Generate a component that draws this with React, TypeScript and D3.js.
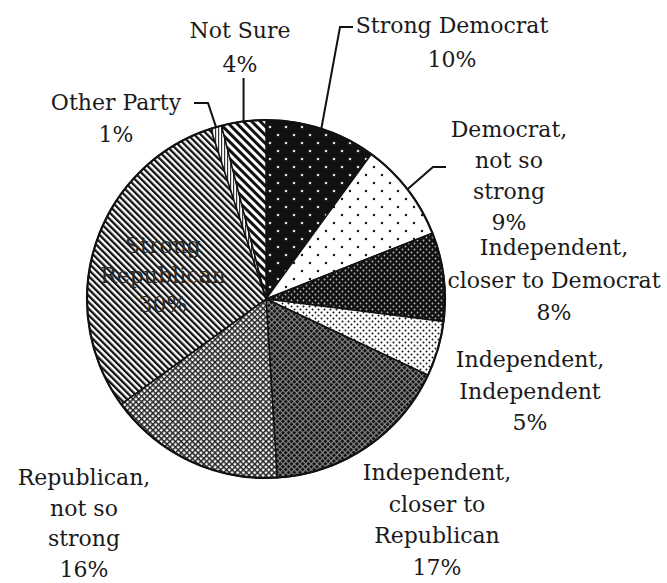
import React from "react";
import * as d3 from "d3";

const categories = [
  "Strong Democrat",
  "Democrat, not so strong",
  "Independent, closer to Democrat",
  "Independent, Independent",
  "Independent, closer to Republican",
  "Republican, not so strong",
  "Strong Republican",
  "Other Party",
  "Not Sure",
];
const values = [10, 9, 8, 5, 17, 16, 30, 1, 4];
const labelLines = [
  ["Strong Democrat"],
  ["Democrat,", "not so", "strong"],
  ["Independent,", "closer to Democrat"],
  ["Independent,", "Independent"],
  ["Independent,", "closer to", "Republican"],
  ["Republican,", "not so", "strong"],
  ["Strong", "Republican"],
  ["Other Party"],
  ["Not Sure"],
];
const patternIds = ["pSD", "pDN", "pICD", "pII", "pICR", "pRN", "pSR", "pOP", "pNS"];

// layout (not data): label anchor = centre x, first baseline y, line height
const labelLayout = [
  { x: 452, y: 33, lh: 34 },
  { x: 509, y: 137, lh: 31 },
  { x: 554, y: 255, lh: 32.5 },
  { x: 530, y: 367, lh: 31.5 },
  { x: 437, y: 480, lh: 31.7 },
  { x: 84, y: 485, lh: 30.7 },
  { x: 163, y: 253, lh: 29.5 },
  { x: 116, y: 110, lh: 32 },
  { x: 240, y: 38, lh: 34 },
];
// leader elbows after the arc point (null = no leader)
const leaderElbows: (number[][] | null)[] = [
  [[340, 27], [353, 27]],
  [[433, 167], [446, 167]],
  null,
  null,
  null,
  null,
  null,
  [[208, 103], [194, 103]],
  [[null as any, 78]],
];

const W = 667;
const H = 583;
const cx = 266;
const cy = 299;
const R = 179;

function Patterns() {
  return (
    <defs>
      <pattern id="pSD" width={16} height={16} patternUnits="userSpaceOnUse">
        <rect width={16} height={16} fill="#111" />
        <circle cx={4} cy={4} r={1.3} fill="#ddd" />
        <circle cx={12} cy={12} r={1.3} fill="#ddd" />
      </pattern>
      <pattern id="pDN" width={16} height={16} patternUnits="userSpaceOnUse">
        <rect width={16} height={16} fill="#fff" />
        <circle cx={4} cy={4} r={1.2} fill="#111" />
        <circle cx={12} cy={12} r={1.2} fill="#111" />
      </pattern>
      <pattern id="pICD" width={6} height={6} patternUnits="userSpaceOnUse">
        <rect width={6} height={6} fill="#111" />
        <circle cx={1.5} cy={1.5} r={0.9} fill="#bbb" />
        <circle cx={4.5} cy={4.5} r={0.9} fill="#bbb" />
      </pattern>
      <pattern id="pII" width={6} height={6} patternUnits="userSpaceOnUse">
        <rect width={6} height={6} fill="#fff" />
        <circle cx={1.5} cy={1.5} r={1.0} fill="#111" />
        <circle cx={4.5} cy={4.5} r={1.0} fill="#111" />
      </pattern>
      <pattern id="pICR" width={4} height={4} patternUnits="userSpaceOnUse" patternTransform="rotate(45)">
        <rect width={4} height={4} fill="#111" />
        <rect x={0} y={0} width={4} height={1.1} fill="#8a8a8a" />
        <rect x={0} y={0} width={1.1} height={4} fill="#8a8a8a" />
      </pattern>
      <pattern id="pRN" width={4} height={4} patternUnits="userSpaceOnUse" patternTransform="rotate(45)">
        <rect width={4} height={4} fill="#fff" />
        <rect x={0} y={0} width={4} height={1.5} fill="#222" />
        <rect x={0} y={0} width={1.5} height={4} fill="#222" />
      </pattern>
      <pattern id="pSR" width={4.6} height={4.6} patternUnits="userSpaceOnUse" patternTransform="rotate(-45)">
        <rect width={4.6} height={4.6} fill="#fff" />
        <rect width={2.3} height={4.6} fill="#111" />
      </pattern>
      <pattern id="pOP" width={3} height={3} patternUnits="userSpaceOnUse">
        <rect width={3} height={3} fill="#fff" />
        <rect width={1.2} height={3} fill="#333" />
      </pattern>
      <pattern id="pNS" width={6} height={6} patternUnits="userSpaceOnUse" patternTransform="rotate(-45)">
        <rect width={6} height={6} fill="#fff" />
        <rect width={3} height={6} fill="#111" />
      </pattern>
    </defs>
  );
}

export default function App() {
  const data = categories.map((c, i) => ({ c, v: values[i], i }));
  const pie = d3
    .pie<any>()
    .value((d) => d.v)
    .sort(null)
    .startAngle(0)
    .endAngle(2 * Math.PI);
  const arcs = pie(data);
  const arc = d3.arc<any>().innerRadius(0).outerRadius(R);
  const edgeArc = d3.arc<any>().innerRadius(R).outerRadius(R);

  return (
    <svg
      width={W}
      height={H}
      style={{ position: "absolute", left: 0, top: 0, background: "#fff" }}
      fontFamily="'DejaVu Serif', serif"
    >
      <Patterns />
      <rect width={W} height={H} fill="#fff" />
      <g transform={`translate(${cx},${cy})`}>
        {arcs.map((a, i) => (
          <path
            key={i}
            d={arc(a) as string}
            fill={`url(#${patternIds[i]})`}
            stroke="#111"
            strokeWidth={1.5}
            strokeLinejoin="round"
          />
        ))}
        <circle r={R} fill="none" stroke="#111" strokeWidth={2.2} />
      </g>
      {arcs.map((a, i) => {
        const el = leaderElbows[i];
        if (!el) return null;
        const [ex, ey] = edgeArc.centroid(a);
        const p0 = [cx + ex, cy + ey];
        const pts = [p0, ...el.map((p) => [p[0] == null ? p0[0] : p[0], p[1]])];
        return (
          <polyline
            key={"l" + i}
            points={pts.map((p) => p.join(",")).join(" ")}
            fill="none"
            stroke="#111"
            strokeWidth={2}
          />
        );
      })}
      {labelLines.map((lines, i) => {
        const L = labelLayout[i];
        const all = [...lines, `${values[i]}%`];
        return (
          <text
            key={"t" + i}
            textAnchor="middle"
            fontSize={22}
            fill={i === 6 ? "#2a2a2a" : "#1a1a1a"}
          >
            {all.map((s, j) => (
              <tspan key={j} x={L.x} y={L.y + j * L.lh}>
                {s}
              </tspan>
            ))}
          </text>
        );
      })}
    </svg>
  );
}
